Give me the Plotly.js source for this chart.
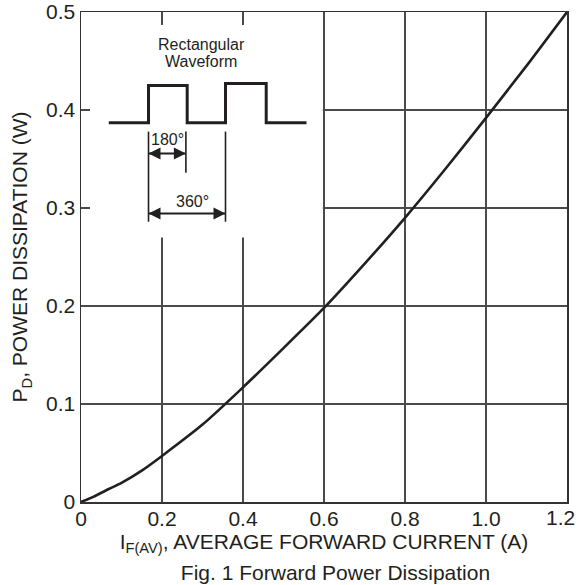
<!DOCTYPE html>
<html><head><meta charset="utf-8">
<script src="https://cdn.plot.ly/plotly-3.0.1.min.js"></script>
<style>html,body{margin:0;padding:0;background:#fff}#chart{width:579px;height:585px}</style>
</head><body><div id="chart"></div>
<script>
// Forward power dissipation curve
const currentA = [0, 0.03, 0.07, 0.1, 0.15, 0.2, 0.3, 0.4, 0.5, 0.6, 0.7, 0.8, 0.9, 1.0, 1.1, 1.2];
const powerW   = [0, 0.0053, 0.0135, 0.0195, 0.032, 0.047, 0.079, 0.117, 0.157, 0.198, 0.243, 0.290, 0.340, 0.392, 0.445, 0.5];

// x tick labels; the last one (at the right edge) is set flush right as in the figure
const xTickVals = [0, 0.2, 0.4, 0.6, 0.8, 1.0];
const xTickText = ['0', '0.2', '0.4', '0.6', '0.8', '1.0'];
const xEdgeTickVal = 1.2;
const xEdgeTickText = '1.2';
const yTickVals = [0, 0.1, 0.2, 0.3, 0.4, 0.5];
const yTickText = ['0', '0.1', '0.2', '0.3', '0.4', '0.5'];

// Inset: rectangular waveform sketch (data units of the chart axes)
const waveX = [0.0686, 0.1667, 0.1667, 0.2622, 0.2622, 0.3568, 0.3568, 0.4573, 0.4573, 0.5568];
const waveY = [0.3869, 0.3869, 0.425, 0.425, 0.3869, 0.3869, 0.4271, 0.4271, 0.3869, 0.3869];
const extX  = [0.1667, 0.1667, null, 0.259, 0.259, null, 0.3568, 0.3568];
const extY  = [0.378, 0.286, null, 0.378, 0.336, null, 0.378, 0.286];
const dimStartX = [0.1667, 0.1667];
const dimEndX   = [0.259, 0.3568];
const dimY      = [0.3556, 0.2944];
const dimLabels = ['180°', '360°'];
const dimLabelX = [0.2143, 0.276];
const dimLabelY = [0.3699, 0.3071];
const insetTitle  = ['Rectangular', 'Waveform'];
const insetTitleX = [0.2975, 0.2963];
const insetTitleY = [0.4668, 0.449];
// region of the grid left blank behind the inset
const blankX = [0, 0.597];
const blankY = [0.27, 0.5];

const ink = '#231f20';
const gridC = '#4a4a4a';
const FONT = 'Arial, "Liberation Sans", Helvetica, sans-serif';

const traces = [
  {x: currentA, y: powerW, type: 'scatter', mode: 'lines',
   line: {color: ink, width: 2.6, shape: 'spline', smoothing: 0.6},
   hoverinfo: 'x+y', showlegend: false, cliponaxis: false},
  {x: waveX, y: waveY, type: 'scatter', mode: 'lines',
   line: {color: ink, width: 3}, hoverinfo: 'skip', showlegend: false},
  {x: extX, y: extY, type: 'scatter', mode: 'lines',
   line: {color: ink, width: 1.6}, hoverinfo: 'skip', showlegend: false, connectgaps: false}
];
// double-headed dimension arrows
for (let i = 0; i < dimY.length; i++) {
  traces.push({x: [dimStartX[i], dimEndX[i]], y: [dimY[i], dimY[i]], type: 'scatter', mode: 'lines+markers',
    line: {color: ink, width: 2},
    marker: {symbol: ['arrow-left', 'arrow-right'], size: 12, color: ink, line: {width: 0}},
    hoverinfo: 'skip', showlegend: false, cliponaxis: false});
}

const annotations = [];
for (let i = 0; i < dimY.length; i++) {
  annotations.push({x: dimLabelX[i], y: dimLabelY[i], xref: 'x', yref: 'y', text: dimLabels[i],
    showarrow: false, xanchor: 'center', yanchor: 'middle', font: {family: FONT, size: 16, color: ink}});
}
for (let i = 0; i < insetTitle.length; i++) {
  annotations.push({x: insetTitleX[i], y: insetTitleY[i], xref: 'x', yref: 'y', text: insetTitle[i],
    showarrow: false, xanchor: 'center', yanchor: 'middle', font: {family: FONT, size: 16, color: ink}});
}
annotations.push({x: xEdgeTickVal, y: 0, xref: 'x', yref: 'paper', text: xEdgeTickText,
  showarrow: false, xanchor: 'right', yanchor: 'middle', xshift: 9.5, yshift: -15.5,
  font: {family: FONT, size: 21, color: ink}});

const layout = {
  width: 579, height: 585,
  margin: {l: 81, r: 12, t: 12, b: 83},
  paper_bgcolor: '#fff', plot_bgcolor: '#fff',
  font: {family: FONT, color: ink, size: 21},
  showlegend: false,
  title: {text: 'Fig. 1 Forward Power Dissipation', font: {family: FONT, size: 21, color: ink},
          x: 335.5 / 579, xanchor: 'center', y: 0.0214, yanchor: 'middle', xref: 'container', yref: 'container'},
  xaxis: {range: [0, 1.2], tickvals: xTickVals, ticktext: xTickText,
          showgrid: true, gridcolor: gridC, gridwidth: 1.2, zeroline: false,
          showline: true, linecolor: '#333', linewidth: 1.5, mirror: 'allticks',
          ticks: 'inside', ticklen: 13, tickwidth: 1.2, tickcolor: gridC,
          ticklabelstandoff: -3,
          tickfont: {family: FONT, size: 21, color: ink},
          automargin: 'bottom',
          title: {text: 'I<sub>F(AV)</sub>, AVERAGE FORWARD CURRENT (A)', standoff: 4,
                  font: {family: FONT, size: 21, color: ink}},
          fixedrange: true},
  yaxis: {range: [0, 0.5], tickvals: yTickVals, ticktext: yTickText,
          showgrid: true, gridcolor: gridC, gridwidth: 1.2, zeroline: false,
          showline: true, linecolor: '#333', linewidth: 1.5, mirror: 'allticks',
          ticks: 'inside', ticklen: 9, tickwidth: 1.2, tickcolor: gridC,
          ticklabeloverflow: 'allow',
          tickfont: {family: FONT, size: 21, color: ink},
          automargin: 'left',
          title: {text: 'P<sub>D</sub>, POWER DISSIPATION (W)', standoff: 12,
                  font: {family: FONT, size: 21, color: ink}},
          fixedrange: true},
  shapes: [
    {type: 'rect', xref: 'x', yref: 'y', x0: blankX[0], x1: blankX[1], y0: blankY[0], y1: blankY[1],
     fillcolor: '#fff', line: {width: 0}, layer: 'between'}
  ],
  annotations: annotations
};

Plotly.newPlot('chart', traces, layout, {staticPlot: true, displayModeBar: false});
</script>
</body></html>
